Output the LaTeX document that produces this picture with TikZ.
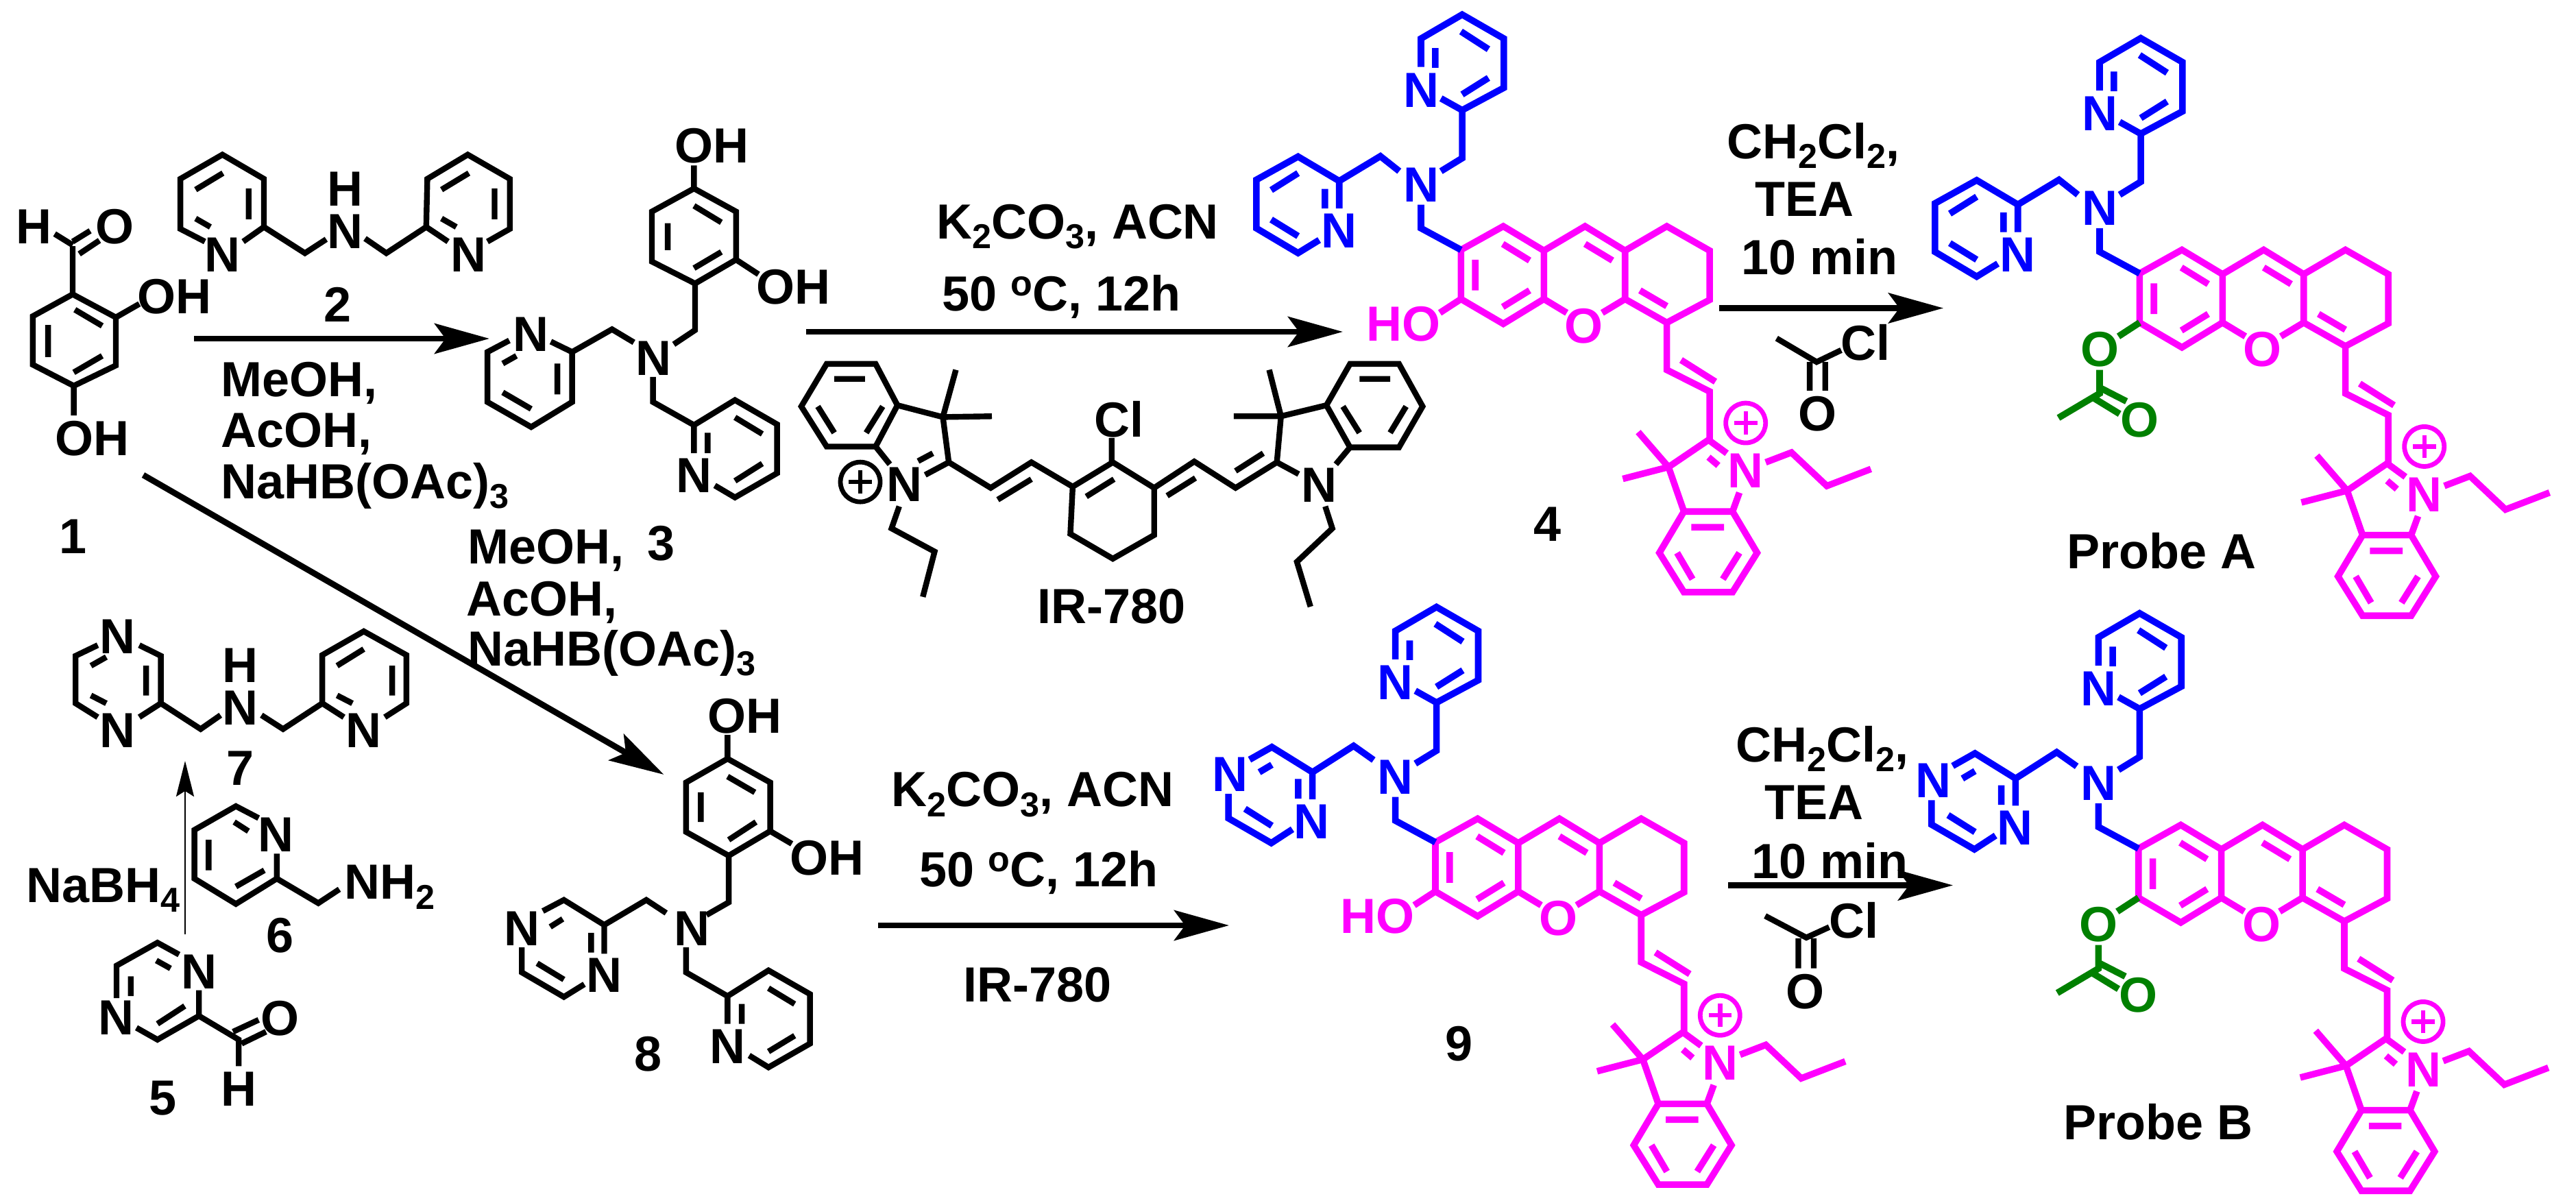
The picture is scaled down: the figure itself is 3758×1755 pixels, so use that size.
\documentclass[tikz,border=0pt]{standalone}
\usepackage{fontspec}
\setmainfont{Liberation Sans}
\usetikzlibrary{arrows.meta}
\definecolor{mag}{RGB}{255,0,255}
\definecolor{blu}{RGB}{0,0,255}
\definecolor{grn}{RGB}{0,128,0}
\newcommand\lo[1]{\raisebox{-3.6pt}{\fontsize{12.6}{12.6}\selectfont #1}}
\newcommand\hi[1]{\raisebox{5.5pt}{\fontsize{13}{13}\selectfont #1}}
\tikzset{
 x=.25pt,y=-.25pt,
 zonea/.style={x=.1993pt,y=-.1403pt},
 zoneb/.style={x=.2152pt,y=-.1435pt,xshift=287.5pt},
 zonec/.style={x=.2085pt,y=-.1435pt,xshift=612.5pt},
 zoned/.style={x=.2073pt,y=-.1443pt,yshift=-212.5pt},
 zonee/.style={x=.2073pt,y=-.1363pt,xshift=300pt,yshift=-225pt},
 zonef/.style={x=.2085pt,y=-.1363pt,xshift=612.5pt,yshift=-225pt},
 dyezone/.style={x=.2085pt,y=-.1435pt},
 bond/.style={line width=2.1pt,line join=miter,black},
 mbond/.style={line width=2.4pt,line join=miter,mag},
 bbond/.style={line width=2.4pt,line join=miter,blu},
 gbond/.style={line width=2.4pt,line join=miter,grn},
 atom/.style={inner sep=0pt,text height=12.9pt,text depth=0pt,font=\bfseries\fontsize{18}{18}\selectfont},
 label/.style={atom},
 rxn/.style={line width=2.2pt,-{Stealth[length=20pt,width=11pt,inset=4pt]}},
 thinrxn/.style={line width=.7pt,-{Stealth[length=13pt,width=6.5pt,inset=2pt]}},
 pluscirc/.style={circle,draw,line width=1.7pt,minimum size=14.5pt,inner sep=0pt},
}
\newcommand\plusmark[3]{% name, position, colour
  \node[pluscirc,draw=#3] (#1) at #2 {};
  \draw[line width=1.6pt,#3] ([xshift=-4.2pt]#1.center) -- ([xshift=4.2pt]#1.center)
    ([yshift=-4.2pt]#1.center) -- ([yshift=4.2pt]#1.center);
}
% dye core, in the coordinates of the Probe A crop
\newcommand\dyecore{%
  \draw[mbond] (805,695)--(879,635)--(950,697)--(950,820)--(879,883)--(805,820)--cycle
    (950,697)--(1022,635)--(1092,697)--(1092,820)--(1052,855)
    (950,820)--(990,855)
    (1092,697)--(1165,635)--(1240,697)--(1240,822)--(1165,880)--(1092,820)
    (878,680)--(925,722) (830,720)--(830,798) (878,840)--(925,798)
    (1022,680)--(1070,722) (1118,798)--(1165,838)
    (1165,880)--(1165,1000)--(1240,1055)--(1240,1178)
    (1190,975)--(1250,1030)
    (1270,1212)--(1238,1178)--(1168,1247) (1238,1222)--(1255,1243)
    (1115,1158)--(1168,1247) (1088,1277)--(1168,1247)
    (1168,1247)--(1195,1360)--(1280,1360)--(1292,1312)
    (1338,1235)--(1383,1210)--(1445,1295)--(1522,1252)
    (1195,1360)--(1152,1465)--(1195,1565)--(1280,1565)--(1323,1465)--(1280,1360)
    (1208,1400)--(1265,1400) (1183,1465)--(1210,1532) (1292,1465)--(1263,1532);
  \node[atom,text=mag] (xo) at (1020,887) {O};
  \node[atom,text=mag] (xn) at (1303,1255) {N};
  \plusmark{xplus}{(1303,1135)}{mag}
  % amine with the upper pyridine
  \draw[bbond] (805,695)--(735,640)--(735,580)
    (770,495)--(807,462)--(807,340)--(880,283)--(880,158)--(807,97)--(735,158)--(735,230)
    (770,310)--(807,340)
    (760,182)--(760,232) (805,140)--(853,185) (807,300)--(853,258);
  \node[atom,text=blu] (an) at (735,528) {N};
  \node[atom,text=blu] (pn) at (735,287) {N};
}
\newcommand\dipic{%
  \draw[bbond] (697,495)--(664,457)--(592,520)--(520,458)--(447,517)--(447,640)--(520,703)--(557,670)
    (592,520)--(592,590) (567,540)--(567,590) (473,543)--(520,500) (473,618)--(520,660);
  \node[atom,text=blu] (ln) at (592,645) {N};
}
\newcommand\pyraz{%
  \draw[bbond] (697,486)--(662,450)--(590,517)--(519,453)--(480,485)
    (443,572)--(443,634)--(518,697)--(555,662)
    (590,517)--(590,586) (565,534)--(565,584) (497,517)--(519,498) (472,610)--(519,653);
  \node[atom,text=blu] (ln) at (589,641) {N};
  \node[atom,text=blu] (lm) at (446,521) {N};
}
\newcommand\hoend{%
  \draw[mbond] (805,820)--(768,855);
  \node[atom,text=mag] (ho) at (704,882) {HO};
}
\newcommand\acend{%
  \draw[gbond] (805,820)--(768,855) (735,940)--(735,1000)--(663,1062)
    (735,985)--(782,1020) (725,1012)--(770,1052);
  \node[atom,text=grn] (ao) at (735,887) {O};
  \node[atom,text=grn] (ad) at (805,1065) {O};
}
\begin{document}
\begin{tikzpicture}
\useasboundingbox (0,0) rectangle (3758,1755);
\fill[white] (0,0) rectangle (3758,1755);
% reaction arrows
\coordinate (a1s) at (283,494); \coordinate (a1e) at (714,494);
\coordinate (a2s) at (1176,484); \coordinate (a2e) at (1959,484);
\coordinate (a3s) at (2508,449.5); \coordinate (a3e) at (2835,449.5);
\coordinate (a4s) at (209,693); \coordinate (a4e) at (968.5,1130);
\coordinate (a5s) at (1281,1350); \coordinate (a5e) at (1793,1350);
\coordinate (a6s) at (2521,1291.5); \coordinate (a6e) at (2849,1291.5);
\coordinate (a7s) at (270,1363); \coordinate (a7e) at (270,1110);
\draw[rxn] (a1s)--(a1e);
\draw[rxn] (a2s)--(a2e);
\draw[rxn] (a3s)--(a3e);
\draw[rxn] (a4s)--(a4e);
\draw[rxn] (a5s)--(a5e);
\draw[rxn] (a6s)--(a6e);
\draw[thinrxn] (a7s)--(a7e);
% ---------- top-left crop
\begin{scope}[zonea]
 % compound 1
 \draw[bond] (133,765)--(212,825)--(212,950)--(135,1003)--(60,948)--(60,822)--cycle
   (137,805)--(187,847) (88,845)--(88,928) (135,968)--(187,925)
   (133,765)--(133,640) (100,608)--(133,637) (133,628)--(165,600) (145,660)--(182,625)
   (212,825)--(255,790) (135,1003)--(135,1080);
 \node[atom] (c1h) at (62,588) {H};
 \node[atom] (c1o) at (210,588) {O};
 \node[atom] (c1oa) at (319,770) {OH};
 \node[atom] (c1ob) at (169,1138) {OH};
 \node[label] (l1) at (133,1392) {1};
 % compound 2
 \draw[bond] (375,628)--(330,595)--(330,465)--(407,402)--(483,465)--(483,590)--(445,628)
   (358,493)--(408,450) (455,490)--(455,570) (358,568)--(385,590)
   (483,590)--(558,658)--(597,622) (668,620)--(707,658)--(780,590)
   (780,590)--(782,465)--(856,402)--(933,465)--(933,595)--(892,628) (820,628)--(780,590)
   (808,493)--(858,450) (905,490)--(905,570) (808,568)--(835,590);
 \node[atom] (c2a) at (407,660) {N};
 \node[atom] (c2b) at (632,600) {N};
 \node[atom] (c2h) at (632,490) {H};
 \node[atom] (c2c) at (858,660) {N};
 \node[label] (l2) at (618,790) {2};
 % conditions 1 to 3
 \node[atom,anchor=west] (t1) at (403,985) {MeOH,};
 \node[atom,anchor=west] (t2) at (403,1117) {AcOH,};
 \node[atom,anchor=west] (t3) at (403,1250) {NaHB(OAc)\lo{3}};
 % compound 3
 \draw[bond] (1270,490)--(1347,550)--(1347,675)--(1272,737)--(1193,680)--(1193,550)--cycle
   (1270,535)--(1320,578) (1222,580)--(1222,650) (1270,697)--(1320,655)
   (1270,490)--(1270,430) (1347,675)--(1388,713)
   (1272,737)--(1272,858)--(1233,895) (1160,890)--(1120,856)--(1047,915)
   (1008,888)--(1047,915)--(1047,1045)--(972,1110)--(892,1045)--(892,915)--(932,885)
   (920,945)--(945,925) (920,1020)--(972,1063) (1020,945)--(1020,1025)
   (1195,980)--(1195,1045)--(1270,1105)--(1270,1178)
   (1270,1105)--(1345,1040)--(1422,1103)--(1422,1230)--(1345,1293)--(1308,1262)
   (1295,1125)--(1295,1178) (1345,1085)--(1395,1128) (1345,1250)--(1395,1205);
 \node[atom] (c3a) at (1303,378) {OH};
 \node[atom] (c3b) at (1452,745) {OH};
 \node[atom] (c3c) at (1196,930) {N};
 \node[atom] (c3d) at (972,868) {N};
 \node[atom] (c3e) at (1270,1235) {N};
 \node[label] (l3) at (1210,1410) {3};
 \node[atom,anchor=west] (t4) at (855,1420) {MeOH,};
\end{scope}
% ---------- IR-780 and conditions
\begin{scope}[zoneb]
 \node[atom,anchor=west] (t5) at (250,562) {K\lo{2}CO\lo{3}, ACN};
 \node[atom,anchor=west] (t6) at (260,745) {50 \hi{o}C, 12h};
 \draw[bond] (65,925)--(148,925)--(185,1030)--(148,1135)--(65,1135)--(22,1033)--cycle
   (78,963)--(130,963) (160,1033)--(132,1100) (50,1033)--(78,1100)
   (185,1030)--(262,1060)--(284,940) (262,1060)--(345,1058) (262,1060)--(272,1175)
   (272,1175)--(232,1207) (245,1152)--(220,1172) (148,1135)--(172,1180)
   (188,1287)--(175,1343)--(248,1402)--(228,1517)
   (272,1175)--(343,1240)--(412,1175)--(482,1237)
   (355,1270)--(412,1218)
   (482,1237)--(550,1175)--(620,1240)--(620,1360)--(550,1420)--(478,1357)--cycle
   (505,1262)--(552,1218) (548,1175)--(548,1113)
   (620,1240)--(688,1173)--(758,1240)--(828,1175)
   (642,1260)--(690,1215) (758,1197)--(805,1152)
   (828,1175)--(835,1058)--(815,940) (835,1058)--(755,1058) (835,1058)--(912,1030)
   (912,1030)--(952,925)--(1035,925)--(1075,1033)--(1035,1137)--(952,1137)--cycle
   (968,963)--(1020,963) (940,1033)--(968,1100) (1047,1033)--(1020,1100)
   (828,1175)--(865,1205) (952,1137)--(928,1180)
   (910,1287)--(922,1343)--(862,1428)--(885,1542);
 \node[atom] (irn) at (197,1230) {N};
 \plusmark{irp}{(122,1225)}{black}
 \node[atom] (ircl) at (560,1065) {Cl};
 \node[atom] (irm) at (900,1232) {N};
 \node[label] (irl) at (548,1540) {IR-780};
 \node[label] (l4) at (1287,1330) {4};
\end{scope}
% ---------- conditions 4 to Probe A
\begin{scope}[zonec]
 \node[atom,anchor=west] (t7) at (82,358) {CH\lo{2}Cl\lo{2},};
 \node[atom,anchor=west] (t8) at (132,505) {TEA};
 \node[atom,anchor=west] (t9) at (108,652) {10 min};
 \draw[bond] (170,860)--(240,920)--(283,890) (228,920)--(228,993) (255,920)--(255,993);
 \node[atom] (acl) at (325,870) {Cl};
 \node[atom] (aco) at (242,1050) {O};
 \node[label] (lA) at (843,1400) {Probe A};
\end{scope}
% ---------- lower-left crop
\begin{scope}[zoned]
 \node[atom,anchor=west] (t10) at (820,40) {AcOH,};
 \node[atom,anchor=west] (t11) at (822,165) {NaHB(OAc)\lo{3}};
 % compound 7
 \draw[bond] (245,158)--(283,185)--(283,305)--(245,340) (172,340)--(133,305)--(133,185)--(172,158)
   (257,210)--(257,285) (160,210)--(187,188) (160,285)--(187,305)
   (283,305)--(353,370)--(388,335) (460,335)--(498,370)--(567,305)
   (605,340)--(567,305)--(567,183)--(640,123)--(715,183)--(715,305)--(677,340)
   (593,210)--(640,168) (690,210)--(690,285) (593,285)--(620,305);
 \node[atom] (c7a) at (207,135) {N};
 \node[atom] (c7b) at (207,372) {N};
 \node[atom] (c7c) at (423,315) {N};
 \node[atom] (c7h) at (423,208) {H};
 \node[atom] (c7d) at (640,372) {N};
 \node[label] (l7) at (423,468) {7};
 % compound 6
 \draw[bond] (455,595)--(415,565)--(342,625)--(342,748)--(415,812)--(487,748)--(487,685)
   (412,605)--(437,628) (367,650)--(367,727) (415,768)--(465,727)
   (487,748)--(560,810)--(597,775);
 \node[atom] (c6n) at (485,635) {N};
 \node[atom,anchor=west] (c6a) at (605,755) {NH\lo{2}};
 \node[label] (l6) at (493,890) {6};
 \node[atom,anchor=west] (t12) at (45,763) {NaBH\lo{4}};
 % compound 5
 \draw[bond] (315,940)--(277,910)--(205,968)--(205,1050)
   (350,1030)--(350,1095)--(277,1155)--(240,1125)
   (230,995)--(230,1045) (275,955)--(300,975) (277,1115)--(325,1070)
   (350,1095)--(420,1155)--(420,1222) (410,1135)--(455,1105) (425,1165)--(468,1135);
 \node[atom] (c5a) at (350,982) {N};
 \node[atom] (c5b) at (205,1098) {N};
 \node[atom] (c5o) at (493,1100) {O};
 \node[atom] (c5h) at (420,1278) {H};
 \node[label] (l5) at (287,1300) {5};
 % compound 8
 \draw[bond] (1280,445)--(1355,505)--(1355,628)--(1282,690)--(1207,630)--(1207,505)--cycle
   (1280,490)--(1328,530) (1233,530)--(1233,605) (1282,650)--(1330,605)
   (1280,445)--(1280,385) (1355,628)--(1393,660)
   (1282,690)--(1282,808)--(1243,840) (1172,835)--(1137,802)--(1063,865)--(992,802)--(955,830)
   (918,922)--(918,985)--(992,1047)--(1028,1015) (1063,865)--(1063,938)
   (1040,885)--(1040,935) (968,870)--(990,850) (945,962)--(992,1003)
   (1207,922)--(1207,985)--(1280,1045)--(1280,1115)
   (1280,1045)--(1352,980)--(1425,1040)--(1425,1165)--(1352,1225)--(1318,1195)
   (1305,1065)--(1305,1115) (1352,1025)--(1398,1065) (1352,1185)--(1398,1145);
 \node[atom] (c8a) at (1310,335) {OH};
 \node[atom] (c8b) at (1455,695) {OH};
 \node[atom] (c8c) at (1217,872) {N};
 \node[atom] (c8d) at (918,872) {N};
 \node[atom] (c8e) at (1063,990) {N};
 \node[atom] (c8f) at (1280,1170) {N};
 \node[label] (l8) at (1140,1190) {8};
\end{scope}
% ---------- conditions 8 to 9
\begin{scope}[zonee]
 \node[atom,anchor=west] (t13) at (120,460) {K\lo{2}CO\lo{3}, ACN};
 \node[atom,anchor=west] (t14) at (170,675) {50 \hi{o}C, 12h};
 \node[label] (t15) at (378,983) {IR-780};
 \node[label] (l9) at (1120,1140) {9};
\end{scope}
% ---------- conditions 9 to Probe B
\begin{scope}[zonef]
 \node[atom,anchor=west] (t16) at (98,340) {CH\lo{2}Cl\lo{2},};
 \node[atom,anchor=west] (t17) at (148,495) {TEA};
 \node[atom,anchor=west] (t18) at (125,652) {10 min};
 \draw[bond] (150,800)--(222,858)--(262,830) (208,860)--(208,940) (235,860)--(235,940);
 \node[atom] (bcl) at (305,812) {Cl};
 \node[atom] (bco) at (220,1000) {O};
 \node[label] (lB) at (838,1352) {Probe B};
\end{scope}
% ---------- dyes
\begin{scope}[dyezone,xshift=365pt,yshift=8.6pt,name prefix=d4-]
 \dyecore\dipic\hoend
\end{scope}
\begin{scope}[dyezone,xshift=612.5pt,name prefix=dA-]
 \dyecore\dipic\acend
\end{scope}
\begin{scope}[dyezone,xshift=355.65pt,yshift=-207.45pt,name prefix=d9-]
 \dyecore\pyraz\hoend
\end{scope}
\begin{scope}[dyezone,xshift=612.08pt,yshift=-209.75pt,name prefix=dB-]
 \dyecore\pyraz\acend
\end{scope}
\end{tikzpicture}
\end{document}
